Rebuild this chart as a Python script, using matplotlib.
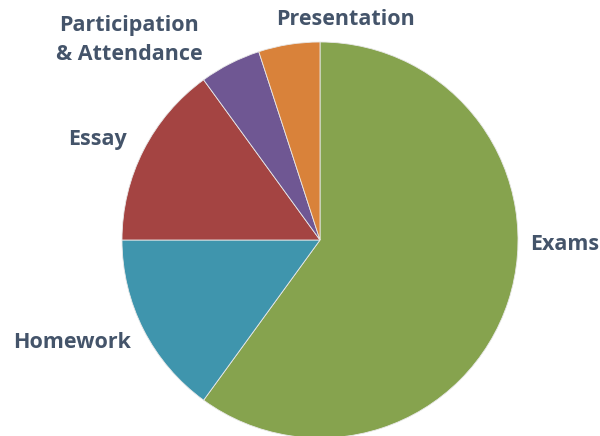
import matplotlib
matplotlib.use("Agg")
from matplotlib import pyplot as plt

categories = ["Exams", "Homework", "Essay", "Participation\n& Attendance", "Presentation"]
shares = [60, 15, 15, 5, 5]
colors = ["#86A34E", "#3F95AD", "#A44442", "#6F5793", "#D9823A"]

# label anchor points in pixel space (x from left, y from top)
label_pos = [(565, 245), (72, 343), (97, 140), (129, 40), (345, 20)]

fig = plt.figure(figsize=(6, 4.36), dpi=100)
ax = fig.add_axes([0, 0, 1, 1])
ax.set_xlim(0, 600)
ax.set_ylim(0, 436)
ax.set_aspect("equal")
ax.axis("off")

ax.pie(shares, colors=colors, startangle=90, counterclock=False,
       center=(320, 436 - 240), radius=198,
       wedgeprops=dict(linewidth=0.6, edgecolor="#e8e8e8"))
ax.set_xlim(0, 600)
ax.set_ylim(0, 436)

for name, (x, y) in zip(categories, label_pos):
    ls = 1.5 if "\n" in name else 1.2
    ax.text(x, 436 - y, name, ha="center", va="center", fontsize=15.5,
            fontweight="bold", color="#44546A", family="Open Sans",
            linespacing=ls)

fig.savefig("out.png", dpi=100)
